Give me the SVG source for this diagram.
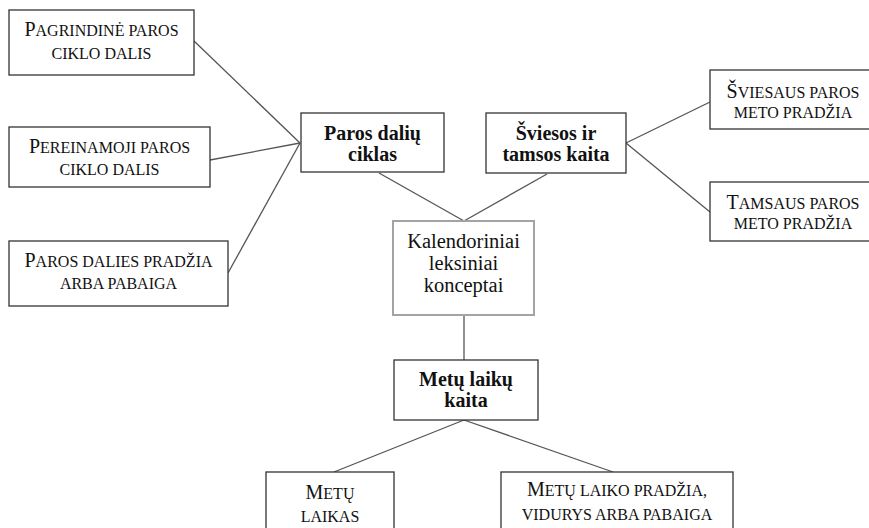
<svg xmlns="http://www.w3.org/2000/svg" width="869" height="528" viewBox="0 0 869 528">
<style>
.box{fill:#fff;stroke:#333;stroke-width:1.3}
.gbox{fill:#fff;stroke:#a3a3a3;stroke-width:2}
.ln{stroke:#555;stroke-width:1.3;fill:none}
text{font-family:"Liberation Serif","Times New Roman",serif;fill:#111;text-anchor:middle}
.sc{font-size:16px}
.cap{font-size:20px}
.b{font-size:20px;font-weight:bold}
.r{font-size:20.5px}
</style>
<rect width="869" height="528" fill="#fff"/>
<g id="connectors">
<line class="ln" x1="194" y1="41" x2="300" y2="143"/>
<line class="ln" x1="210" y1="160" x2="300" y2="143"/>
<line class="ln" x1="228" y1="273" x2="300" y2="143"/>
<line class="ln" x1="379" y1="173" x2="464" y2="221"/>
<line class="ln" x1="547" y1="174" x2="464" y2="221"/>
<line class="ln" x1="626" y1="143" x2="710" y2="102"/>
<line class="ln" x1="626" y1="143" x2="710" y2="212"/>
<line class="ln" x1="464" y1="315" x2="464" y2="360"/>
<line class="ln" x1="464" y1="420" x2="334" y2="472"/>
<line class="ln" x1="464" y1="420" x2="613" y2="472"/>
</g>
<g id="n-pagrindine">
<rect class="box" x="9" y="10" width="185" height="65"/>
<text class="sc" x="101.5" y="36"><tspan class="cap">P</tspan>AGRINDINĖ PAROS</text>
<text class="sc" x="101.5" y="59">CIKLO DALIS</text>
</g>
<g id="n-pereinamoji">
<rect class="box" x="9" y="127" width="201" height="60"/>
<text class="sc" x="109.5" y="152.5"><tspan class="cap">P</tspan>EREINAMOJI PAROS</text>
<text class="sc" x="109.5" y="175">CIKLO DALIS</text>
</g>
<g id="n-paros-dalies">
<rect class="box" x="9" y="241" width="219" height="65"/>
<text class="sc" x="118.5" y="266.5"><tspan class="cap">P</tspan>AROS DALIES PRADŽIA</text>
<text class="sc" x="118.5" y="288.5">ARBA PABAIGA</text>
</g>
<g id="n-paros-daliu-ciklas">
<rect class="box" x="301" y="113" width="143" height="59"/>
<text class="b" x="372.5" y="139.5">Paros dalių</text>
<text class="b" x="372.5" y="161">ciklas</text>
</g>
<g id="n-sviesos">
<rect class="box" x="486" y="113" width="140" height="60"/>
<text class="b" x="556" y="140">Šviesos ir</text>
<text class="b" x="556" y="161">tamsos kaita</text>
</g>
<g id="n-sviesaus">
<rect class="box" x="710" y="70" width="170" height="59"/>
<text class="sc" x="793" y="97.5"><tspan class="cap">Š</tspan>VIESAUS PAROS</text>
<text class="sc" x="793" y="118">METO PRADŽIA</text>
</g>
<g id="n-tamsaus">
<rect class="box" x="710" y="182" width="170" height="59"/>
<text class="sc" x="793" y="208.5"><tspan class="cap">T</tspan>AMSAUS PAROS</text>
<text class="sc" x="793" y="229">METO PRADŽIA</text>
</g>
<g id="n-kalendoriniai">
<rect class="gbox" x="393" y="221" width="141" height="94"/>
<text class="r" x="463.5" y="248">Kalendoriniai</text>
<text class="r" x="463.5" y="270">leksiniai</text>
<text class="r" x="463.5" y="292">konceptai</text>
</g>
<g id="n-metu-laiku-kaita">
<rect class="box" x="394" y="360" width="144" height="60"/>
<text class="b" x="466" y="386">Metų laikų</text>
<text class="b" x="466" y="407">kaita</text>
</g>
<g id="n-metu-laikas">
<rect class="box" x="266" y="472" width="128" height="70"/>
<text class="sc" x="330" y="499"><tspan class="cap">M</tspan>ETŲ</text>
<text class="sc" x="330" y="521.5">LAIKAS</text>
</g>
<g id="n-metu-laiko-pradzia">
<rect class="box" x="501" y="472" width="232" height="70"/>
<text class="sc" x="617" y="496"><tspan class="cap">M</tspan>ETŲ LAIKO PRADŽIA,</text>
<text class="sc" x="617" y="520">VIDURYS ARBA PABAIGA</text>
</g>
</svg>
